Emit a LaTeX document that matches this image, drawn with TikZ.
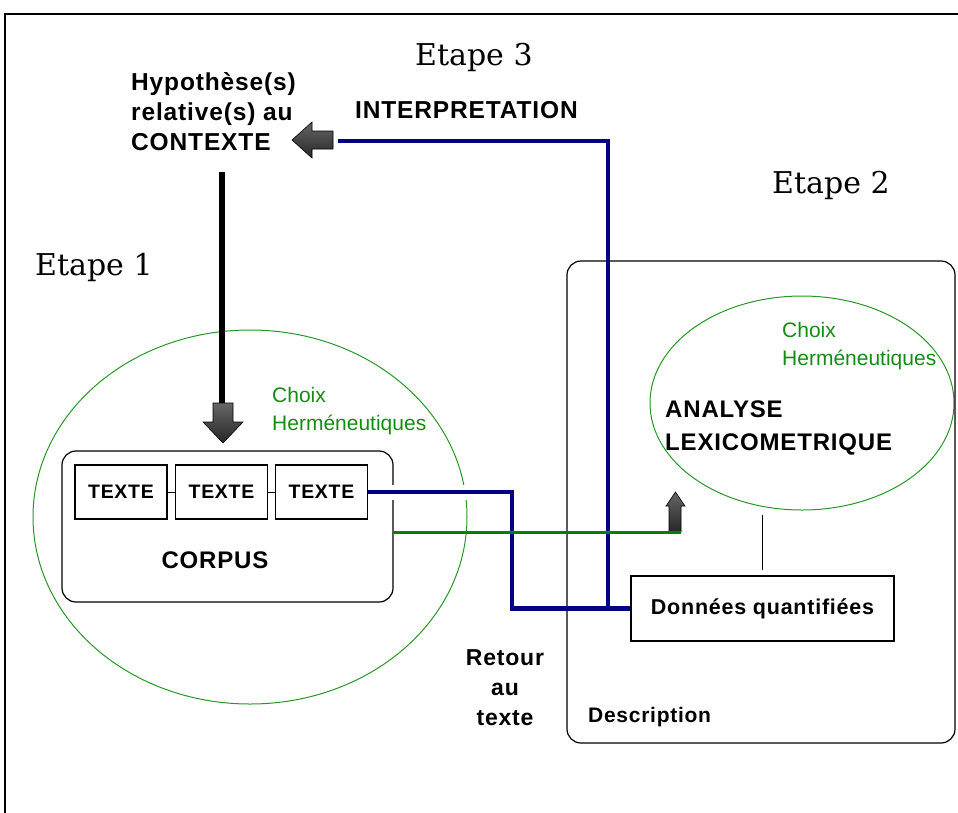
\documentclass[tikz,border=0pt]{standalone}
\usepackage{fontspec}
\setmainfont{Liberation Sans}[BoldFeatures={LetterSpace=3.5}]
\newfontfamily\etfont{DejaVu Serif}
\usetikzlibrary{shapes.geometric}
\definecolor{navyb}{RGB}{0,0,128}
\definecolor{grnl}{RGB}{0,128,0}
\definecolor{grne}{RGB}{40,150,40}
\definecolor{grnt}{RGB}{20,140,20}
\begin{document}
\begin{tikzpicture}[x=1pt,y=-1pt,
  etape/.style={font=\etfont\fontsize{30}{36}\selectfont, anchor=base west, inner sep=0},
  lbl/.style={font=\bfseries\fontsize{24.5}{30}\selectfont, inner sep=0, align=left, anchor=base west},
  choix/.style={text=grnt, font=\fontsize{21}{27.5}\selectfont, align=left, inner sep=0, anchor=base west},
  txtbox/.style={draw, line width=1.2, minimum width=92, minimum height=54, inner sep=0, font=\bfseries\fontsize{19.5}{20}\selectfont},
  navyline/.style={navyb, line width=4.5},
  greenline/.style={grnl, line width=3},
  blockarrow/.style={draw=black, line width=0.6, top color=black!60, bottom color=black!85},
  gell/.style={ellipse, draw=grne, line width=1, inner sep=0},
  rbox/.style={draw, line width=1.2, rounded corners=14}
]
\useasboundingbox (0,0) rectangle (958,812);
% outer frame
\draw[line width=2] (5,813) -- (5,14) -- (959,14);

% titles (multi-line nodes are placed by the baseline of their last line)
\node[etape] (e3) at (415,65) {Etape 3};
\node[etape] (e2) at (772,193) {Etape 2};
\node[etape] (e1) at (35,275) {Etape 1};
\node[lbl] (hyp) at (131,150) {Hypothèse(s)\\relative(s) au\\CONTEXTE};
\node[lbl] (interp) at (355,118) {INTERPRETATION};

% ellipses
\node[gell, minimum width=434, minimum height=374] (ell1) at (250,517) {};
\node[gell, minimum width=304, minimum height=214] (ell2) at (802,403) {};
\node[choix] (ch1) at (272,430) {Choix\\Herméneutiques};
\node[choix] (ch2) at (782,365) {Choix\\Herméneutiques};

% corpus
\node[rbox, minimum width=331, minimum height=151] (corpus) at (227.5,526.5) {};
\node[txtbox] (t1) at (121,492) {TEXTE};
\node[txtbox] (t2) at (221.5,492) {TEXTE};
\node[txtbox] (t3) at (321.5,492) {TEXTE};
\draw[line width=1] (t1) -- (t2);
\draw[line width=1] (t2) -- (t3);
\node[font=\bfseries\fontsize{24}{24}\selectfont, anchor=base, inner sep=0] (corpl) at (215,568) {CORPUS};

% description
\node[rbox, minimum width=388, minimum height=482] (desc) at (761,502) {};
\node[lbl, font=\bfseries\fontsize{21}{21}\selectfont] (descl) at (588,722) {Description};
\node[lbl, font=\bfseries\fontsize{24}{33}\selectfont] (anl) at (665,450) {ANALYSE\\LEXICOMETRIQUE};
\node[draw, line width=1.2, minimum width=263, minimum height=65, inner sep=0,
      font=\bfseries\fontsize{21.5}{21.5}\selectfont] (dq) at (762.5,608.5) {Données quantifiées};
\draw[line width=1.2, shorten <=5pt, shorten >=4pt] (dq.north) -- (dq.north |- ell2.south);

% retour au texte
\node[lbl, align=center, anchor=base, font=\bfseries\fontsize{23}{30}\selectfont] (ret) at (505,725) {Retour\\au\\texte};

% coordinates for connectors
\coordinate (la) at (338,141);
\coordinate (jn) at (608,608.5);
\coordinate (da) at (222,404);
\coordinate (ua) at (675,532);

% black down arrow
\draw[line width=6.5, shorten <=22pt] (hyp.south -| da) -- (da);
\draw[blockarrow] (213,403) -- (233,403) -- (233,422) -- (243,422) -- (223,443) -- (203,422) -- (213,422) -- cycle;

% interpretation (navy) line and left arrow
\draw[navyline] (la) -| (jn);
\draw[blockarrow] (292,140) -- (312,122) -- (312,131) -- (333,131) -- (333,149) -- (312,149) -- (312,158) -- cycle;

% retour au texte (navy) line
\draw[white, line width=15] ([xshift=4pt]t3.east) -- ++(136,0);
\draw[navyline] (t3.east) -- ++(144,0) |- (dq.west);

% green line with up arrow
\draw[greenline] ([yshift=-5.5pt]corpus.east) -- (ua);
\draw[blockarrow] (669,532) -- (669,506) -- (666,506) -- (675.5,492) -- (685,506) -- (681,506) -- (681,532) -- cycle;
\draw[greenline] (ua) ++(-6,0) -- ++(12,0);
\end{tikzpicture}
\end{document}
